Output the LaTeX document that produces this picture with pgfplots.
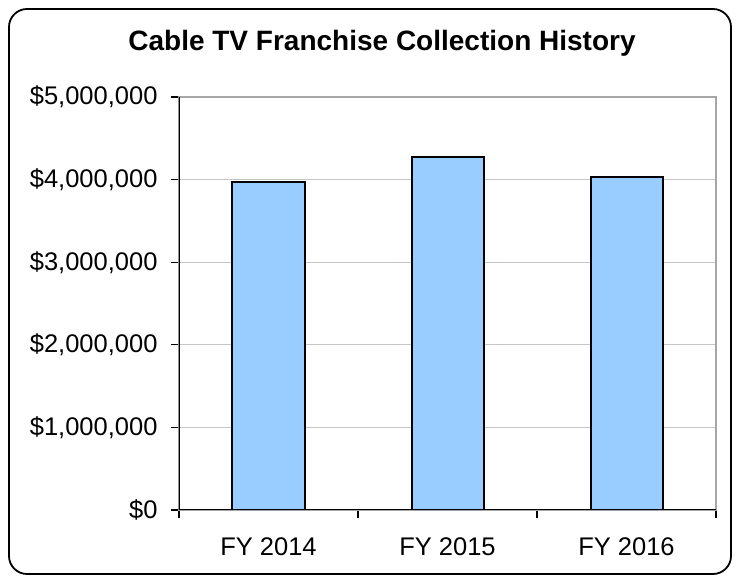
\documentclass[border=0pt]{standalone}
\usepackage{pgfplots}
\pgfplotsset{compat=1.18}
\usepackage{fontspec}
\setmainfont{Liberation Sans}
\definecolor{barblue}{HTML}{99CCFF}
\begin{document}
\begin{tikzpicture}[x=1pt,y=1pt]
\useasboundingbox (0,0) rectangle (740,583);
\draw[black, line width=1.8pt, rounded corners=18pt] (9,9) rectangle (731,574);
\node[font=\fontsize{28}{32}\selectfont\bfseries] at (382,540) {Cable TV Franchise Collection History};
\begin{axis}[
  at={(179pt,73pt)}, anchor=south west,
  scale only axis, width=537pt, height=413pt,
  xmin=-0.5, xmax=2.5, ymin=0, ymax=5000000,
  xtick={0,1,2}, xticklabels={FY 2014,FY 2015,FY 2016},
  xtick pos=bottom, ytick pos=left,
  major x tick style={draw=none},
  minor xtick={-0.5,0.5,1.5,2.5},
  minor tick length=8pt,
  minor x tick style={black, line width=1.3pt},
  ytick={0,1000000,2000000,3000000,4000000,5000000},
  scaled y ticks=false,
  yticklabel={\$\pgfmathprintnumber[fixed,1000 sep={,}]{\tick}},
  /pgf/number format/assume math mode=true,
  tick align=outside,
  major tick length=8pt,
  y tick style={black, line width=1.3pt},
  ymajorgrids, major grid style={gray!45, line width=1.2pt},
  axis line style={gray!70, line width=1.2pt},
  tick label style={font=\fontsize{25.5}{30}\selectfont},
  xticklabel style={yshift=-16pt},
  yticklabel style={xshift=-10pt},
  ybar, bar width=72pt,
]
\addplot[fill=barblue, draw=black, line width=2pt] coordinates {(0,3970000) (1,4270000) (2,4030000)};
\draw[black, line width=2pt] (rel axis cs:0,0) -- (rel axis cs:0,1);
\draw[black, line width=2pt] (rel axis cs:0,0) -- (rel axis cs:1,0);
\end{axis}
\end{tikzpicture}
\end{document}
